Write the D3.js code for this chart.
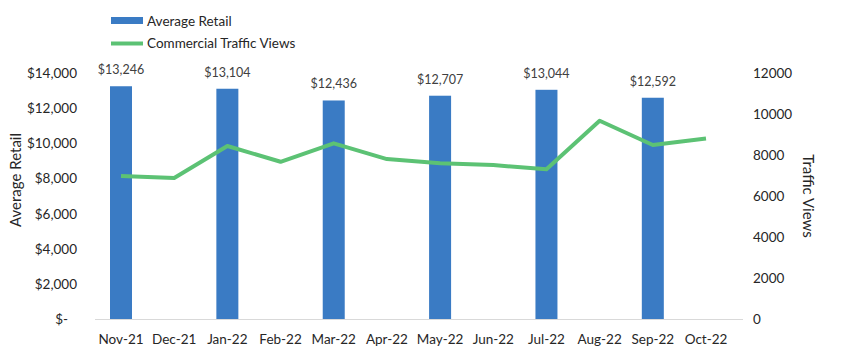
<!DOCTYPE html>
<html><head><meta charset="utf-8">
<script src="https://cdn.jsdelivr.net/npm/d3@7"></script>
<style>body{margin:0;background:#fff}text{font-family:Lato,"Open Sans",sans-serif;fill:#262626}</style>
</head><body><svg id="c" width="841" height="360"></svg>
<script>
const months = ["Nov-21","Dec-21","Jan-22","Feb-22","Mar-22","Apr-22","May-22","Jun-22","Jul-22","Aug-22","Sep-22","Oct-22"];
const retail = [13246,null,13104,null,12436,null,12707,null,13044,null,12592,null];
const traffic = [6980,6880,8440,7670,8570,7800,7600,7510,7300,9670,8490,8810];
const leftTicks = [0,2000,4000,6000,8000,10000,12000,14000];
const rightTicks = [0,2000,4000,6000,8000,10000,12000];

const svg = d3.select("#c");
const x = d3.scaleBand().domain(months).range([95,743]).paddingInner(0.59).paddingOuter(0.295);
const xc = d3.scalePoint().domain(months).range([121,706]);
const yL = d3.scaleLinear().domain([0,14000]).range([319,73]);
const yR = d3.scaleLinear().domain([0,12000]).range([319,73]);

svg.append("line").attr("x1",95).attr("x2",743).attr("y1",319.5).attr("y2",319.5).attr("stroke","#d9d9d9");

const data = months.map((m,i)=>({m,r:retail[i],t:traffic[i]}));
const bw = 22;
svg.selectAll("rect.bar").data(data.filter(d=>d.r!=null)).enter().append("rect")
  .attr("x",d=>xc(d.m)-bw/2).attr("width",bw).attr("y",d=>yL(d.r)).attr("height",d=>yL(0)-yL(d.r))
  .attr("fill","#3A7BC4");
const fmt = d3.format("$,");
svg.selectAll("text.bl").data(data.filter(d=>d.r!=null)).enter().append("text")
  .attr("x",d=>xc(d.m)).attr("y",d=>yL(d.r)-12).attr("text-anchor","middle")
  .attr("font-size",12.5).style("fill","#404040").text(d=>fmt(d.r));

const line = d3.line().x(d=>xc(d.m)).y(d=>yR(d.t));
svg.append("path").datum(data).attr("d",line).attr("fill","none").attr("stroke","#5CC274").attr("stroke-width",4).attr("stroke-linejoin","round");

svg.selectAll("text.lt").data(leftTicks).enter().append("text")
  .attr("x",d=>d===0?68:77).attr("y",d=>yL(d)+5).attr("text-anchor","end").attr("font-size",13.5)
  .text(d=>d===0?"$-":fmt(d));
svg.selectAll("text.rt").data(rightTicks).enter().append("text")
  .attr("x",753).attr("y",d=>yR(d)+5).attr("text-anchor","start").attr("font-size",13.5)
  .text(d=>d);
svg.selectAll("text.xt").data(months).enter().append("text")
  .attr("x",d=>xc(d)).attr("y",344).attr("text-anchor","middle").attr("font-size",13.5).text(d=>d);

svg.append("text").attr("transform","translate(21,180) rotate(-90)").attr("text-anchor","middle").attr("font-size",15).text("Average Retail");
svg.append("text").attr("transform","translate(803,196) rotate(90)").attr("text-anchor","middle").attr("font-size",15).text("Traffic Views");

// legend
svg.append("rect").attr("x",111).attr("y",17).attr("width",32).attr("height",7).attr("fill","#3A7BC4");
svg.append("text").attr("x",147).attr("y",26).attr("font-size",13.5).text("Average Retail");
svg.append("line").attr("x1",111).attr("x2",143).attr("y1",43.5).attr("y2",43.5).attr("stroke","#5CC274").attr("stroke-width",4);
svg.append("text").attr("x",147).attr("y",48).attr("font-size",13.5).text("Commercial Traffic Views");
</script></body></html>
